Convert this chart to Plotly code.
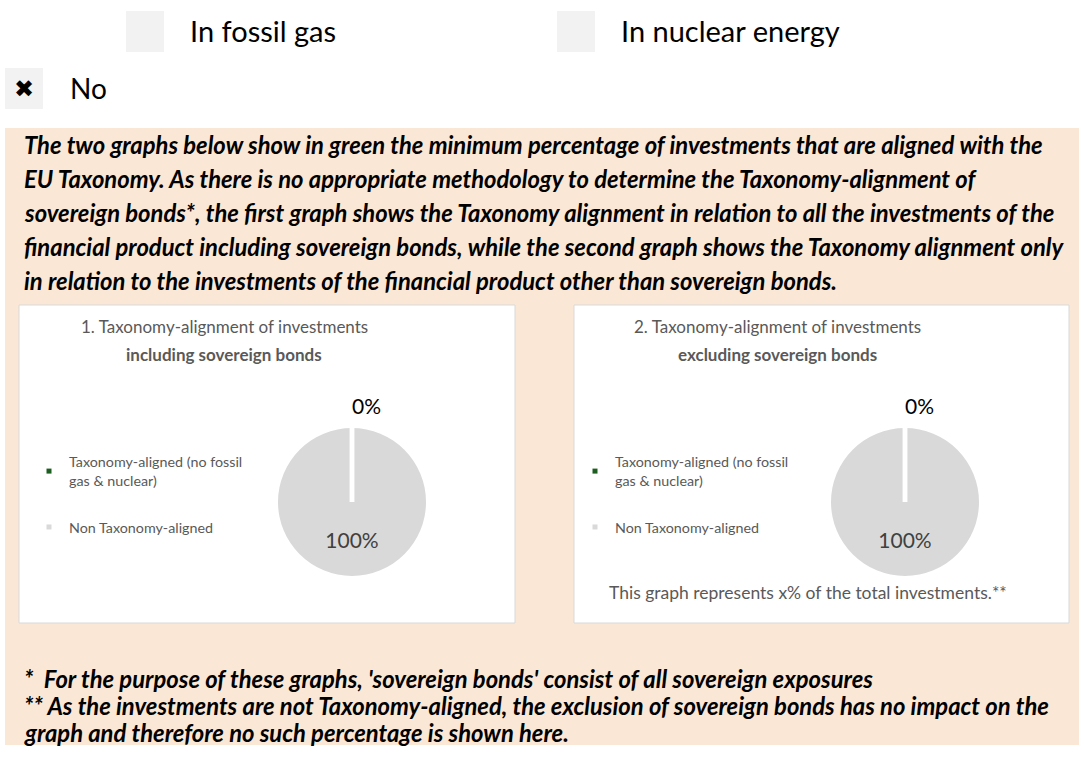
import plotly.graph_objects as go
import numpy as np

W, H = 1084, 758

# ---- data -------------------------------------------------------------
slice_labels = ["Taxonomy-aligned (no fossil gas & nuclear)", "Non Taxonomy-aligned"]
legend_names = ["Taxonomy-aligned (no fossil<br>gas & nuclear)", "Non Taxonomy-aligned"]
incl_sovereign = [0, 100]   # graph 1: including sovereign bonds
excl_sovereign = [0, 100]   # graph 2: excluding sovereign bonds
slice_colors = ["#1B5E20", "#D9D9D9"]

chart_titles = [
    ("1. Taxonomy-alignment of investments", "including sovereign bonds"),
    ("2. Taxonomy-alignment of investments", "excluding sovereign bonds"),
]
options = ["In fossil gas", "In nuclear energy"]
answer = "No"
intro_lines = [
    "The two graphs below show in green the minimum percentage of investments that are aligned with the",
    "EU Taxonomy. As there is no appropriate methodology to determine the Taxonomy-alignment of",
    "sovereign bonds*, the first graph shows the Taxonomy alignment in relation to all the investments of the",
    "financial product including sovereign bonds, while the second graph shows the Taxonomy alignment only",
    "in relation to the investments of the financial product other than sovereign bonds.",
]
footnote_lines = [
    "*  For the purpose of these graphs, 'sovereign bonds' consist of all sovereign exposures",
    "** As the investments are not Taxonomy-aligned, the exclusion of sovereign bonds has no impact on the",
    "graph and therefore no such percentage is shown here.",
]
graph2_note = "This graph represents x% of the total investments.**"

FONT = "Lato"
GREY_TXT = "#595959"


def px(x):
    return x / W


def py(y):
    return 1 - y / H


fig = go.Figure()
shapes = []
annotations = []


def rect(x0, y0, x1, y1, fill, line=None):
    shapes.append(dict(type="rect", xref="paper", yref="paper",
                       x0=px(x0), x1=px(x1), y0=py(y1), y1=py(y0),
                       fillcolor=fill,
                       line=dict(color=line or fill, width=1 if line else 0),
                       layer="below"))


def text(x, y, s, size, color="#000000", xanchor="left", family=FONT):
    annotations.append(dict(x=px(x), y=py(y), xref="paper", yref="paper",
                            text=s, showarrow=False, xanchor=xanchor,
                            yanchor="middle",
                            font=dict(family=family, size=size, color=color),
                            align="center" if xanchor == "center" else "left"))


# ---- checkbox header ----------------------------------------------------
rect(126, 11, 164, 52, "#F2F2F2")
rect(557, 11, 595, 52, "#F2F2F2")
text(188, 30, options[0], 29)
text(619, 30, options[1], 29)
rect(5, 68, 43, 109, "#F2F2F2")
text(24, 89, "\u2716", 24, xanchor="center", family="DejaVu Sans")
text(68, 88, answer, 28)

# ---- peach panel with intro text and footnotes --------------------------
rect(5, 128, 1079, 745, "#FAE7D6")
for i, line in enumerate(intro_lines):
    text(22, 145 + 34 * i, f"<b><i>{line}</i></b>", 23.8)
for i, line in enumerate(footnote_lines):
    text(22, 679 + 27 * i, f"<b><i>{line}</i></b>", 23.8)

# ---- the two chart cards ------------------------------------------------
cards = [(19, 515), (574, 1069)]
for x0, x1 in cards:
    rect(x0, 305, x1, 623, "#FFFFFF", line="#D9D9D9")

title_centers = [224, 777]
for cx, (t1, t2) in zip(title_centers, chart_titles):
    text(cx, 327, t1, 17, color=GREY_TXT, xanchor="center")
    text(cx, 354, f"<b>{t2}</b>", 17, color=GREY_TXT, xanchor="center")
text(607, 592, graph2_note, 17.5, color=GREY_TXT)

# ---- pies drawn on polar subplots ---------------------------------------
pie_centers = [352, 905]
pie_cy, pie_r = 502, 74
R_MAX = 1.45          # radial headroom so outside labels stay inside the subplot
datasets = [incl_sovereign, excl_sovereign]
polar_names = ["polar", "polar2"]
legend_ids = ["legend", "legend2"]

for k, (vals, pname, lid) in enumerate(zip(datasets, polar_names, legend_ids)):
    vals = np.asarray(vals, dtype=float)
    total = vals.sum()
    widths = vals / total * 360.0
    starts = np.concatenate([[0.0], np.cumsum(widths)[:-1]])
    mids = starts + widths / 2.0
    pct = [f"{v / total * 100:.0f}%" for v in vals]

    # slices
    for j in range(len(vals)):
        if vals[j] <= 0:
            continue
        fig.add_trace(go.Barpolar(
            r=[1], theta=[mids[j]], width=[widths[j]], base=0,
            marker=dict(color=slice_colors[j], line=dict(width=0)),
            name=slice_labels[j], showlegend=False, subplot=pname,
            hoverinfo="skip"))

    # white slice borders along each slice edge
    rr, tt = [], []
    for a in starts:
        rr += [0, 1, None]
        tt += [a, a, None]
    fig.add_trace(go.Scatterpolar(
        r=rr, theta=tt, mode="lines",
        line=dict(color="#FFFFFF", width=4.5),
        showlegend=False, subplot=pname, hoverinfo="skip"))

    # data labels: empty slices outside, filled slices inside
    lab_r = [1.26 if v == 0 else 0.55 for v in vals]
    lab_pos = ["middle right" if v == 0 else "middle center" for v in vals]
    lab_col = ["#000000" if v == 0 else "#404040" for v in vals]
    fig.add_trace(go.Scatterpolar(
        r=lab_r, theta=list(mids), mode="text", text=pct,
        textposition=lab_pos, cliponaxis=False,
        textfont=dict(family=FONT, size=21, color=lab_col),
        showlegend=False, subplot=pname, hoverinfo="skip"))

    # legend entries
    for j in range(len(vals)):
        fig.add_trace(go.Scatterpolar(
            r=[None], theta=[None], mode="markers",
            marker=dict(symbol="square", size=5, color=slice_colors[j]),
            name=legend_names[j], legend=lid, legendgroup=f"g{k}{j}",
            subplot=pname, hoverinfo="skip"))

polar_common = dict(
    bgcolor="rgba(0,0,0,0)",
    radialaxis=dict(visible=False, range=[0, R_MAX]),
    angularaxis=dict(visible=False, rotation=90, direction="clockwise"),
    hole=0,
)
span = pie_r * R_MAX
for pname, cx in zip(polar_names, pie_centers):
    fig.layout[pname] = dict(
        domain=dict(x=[px(cx - span), px(cx + span)],
                    y=[py(pie_cy + span), py(pie_cy - span)]),
        **polar_common)

legend_common = dict(
    bgcolor="rgba(0,0,0,0)", borderwidth=0,
    font=dict(family=FONT, size=14.3, color=GREY_TXT),
    xanchor="left", yanchor="top", itemwidth=30, tracegroupgap=25,
    itemclick=False, itemdoubleclick=False,
)
fig.update_layout(
    legend=dict(x=px(29), y=py(446), **legend_common),
    legend2=dict(x=px(575), y=py(446), **legend_common),
)

fig.update_layout(
    width=W, height=H,
    margin=dict(l=0, r=0, t=0, b=0),
    paper_bgcolor="#FFFFFF",
    plot_bgcolor="#FFFFFF",
    shapes=shapes,
    annotations=annotations,
    font=dict(family=FONT),
)

fig.write_html("out.html")
